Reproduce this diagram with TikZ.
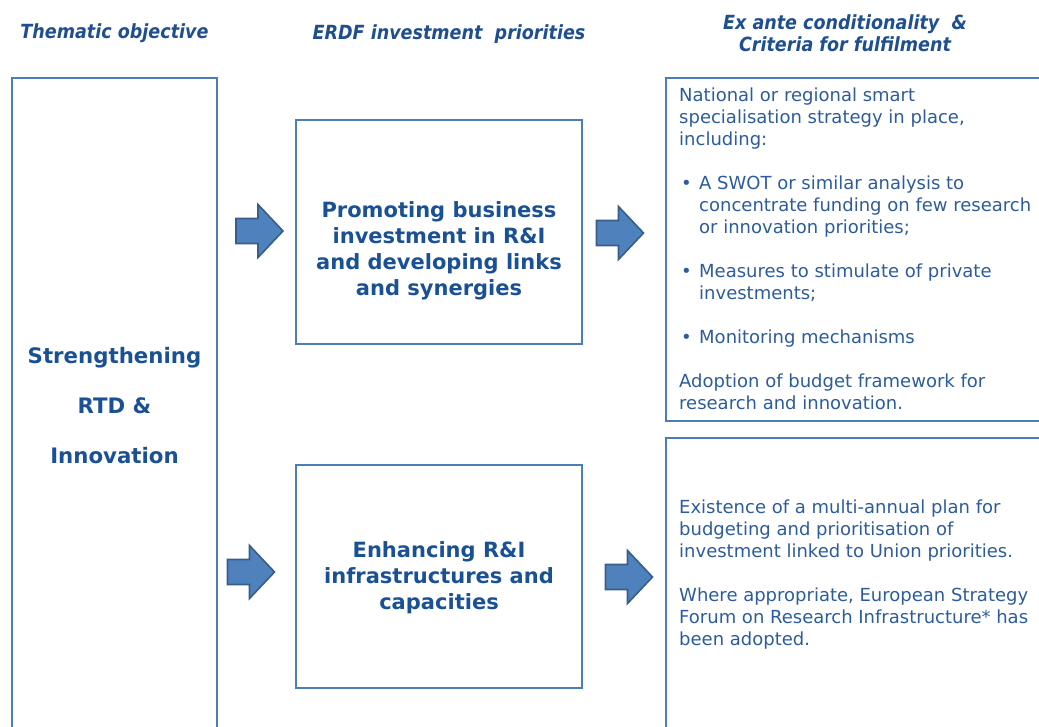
\documentclass[tikz,border=0pt]{standalone}
\usepackage{fontspec}
\setmainfont{DejaVu Sans}
\newfontfamily\hdrfont{DejaVu Sans Condensed}
\definecolor{boxline}{HTML}{4A7EBB}
\definecolor{arrowfill}{HTML}{4F81BD}
\definecolor{arrowline}{HTML}{385D8A}
\definecolor{bodytext}{HTML}{2C5C9C}
\definecolor{boldtext}{HTML}{1A5195}
\definecolor{hdrtext}{HTML}{1F4F8F}
\tikzset{
  frame/.style={draw=boxline, line width=2pt},
  hdr/.style={font=\hdrfont\itshape\bfseries\fontsize{19.5}{22}\selectfont, text=hdrtext, align=center, inner sep=0pt},
  boldlbl/.style={font=\bfseries\fontsize{21}{26}\selectfont, text=boldtext, align=center, inner sep=0pt},
  body/.style={font=\fontsize{18}{22}\selectfont, text=bodytext, align=left, inner sep=0pt, anchor=north west},
  blockarrow/.pic={\draw[fill=arrowfill, draw=arrowline, line width=1.6pt, line join=miter]
     (-23.5,-12.5) -- (-1.5,-12.5) -- (-1.5,-26.5) -- (23.5,0) -- (-1.5,26.5) -- (-1.5,12.5) -- (-23.5,12.5) -- cycle;}
}
\newcommand{\bul}{\makebox[20pt][l]{\hspace*{2pt}•}}
\newcommand{\ind}{\hspace*{20pt}}
\begin{document}
\begin{tikzpicture}[x=1pt,y=-1pt]
\useasboundingbox (0,0) rectangle (1039,726);
% headers
\node[hdr] (h1) at (114.5,33) {Thematic objective};
\node[hdr] (h2) at (449,34) {ERDF investment\ \ priorities};
\node[hdr] (h3) at (845,33) {Ex ante conditionality \ \&\\Criteria\ for fulfilment};
% frames
\draw[frame] (12,740) -- (12,78) -- (217,78) -- (217,740);
\draw[frame] (296,120) rectangle (582,344);
\draw[frame] (296,465) rectangle (582,688);
\draw[frame] (1050,78) -- (666,78) -- (666,421) -- (1050,421);
\draw[frame] (1050,438) -- (666,438) -- (666,740);
% texts
\node[boldlbl, font=\bfseries\fontsize{21.3}{50}\selectfont] (to) at (114.5,406) {Strengthening\\RTD \&\\Innovation};
\node[boldlbl] (ip1) at (439,251) {Promoting business\\investment in R\&I\\and developing links\\and synergies};
\node[boldlbl] (ip2) at (439,578) {Enhancing R\&I\\infrastructures and\\capacities};
\node[body] (c1) at (679,88) {National or regional smart\\specialisation strategy in place,\\including:\\[22pt]
\bul A SWOT or similar analysis to\\\ind concentrate funding on few research\\\ind or innovation priorities;\\[22pt]
\bul Measures to stimulate of private\\\ind investments;\\[22pt]
\bul Monitoring mechanisms\\[22pt]
Adoption of budget framework for\\research and innovation.};
\node[body] (c2) at (679,500) {Existence of a multi-annual plan for\\budgeting and prioritisation of\\investment linked to Union priorities.\\[22pt]
Where appropriate, European Strategy\\Forum on Research Infrastructure* has\\been adopted.};
% block arrows
\pic at (259.5,231) {blockarrow};
\pic at (620,233) {blockarrow};
\pic at (251,572) {blockarrow};
\pic at (629,577) {blockarrow};
\end{tikzpicture}
\end{document}
